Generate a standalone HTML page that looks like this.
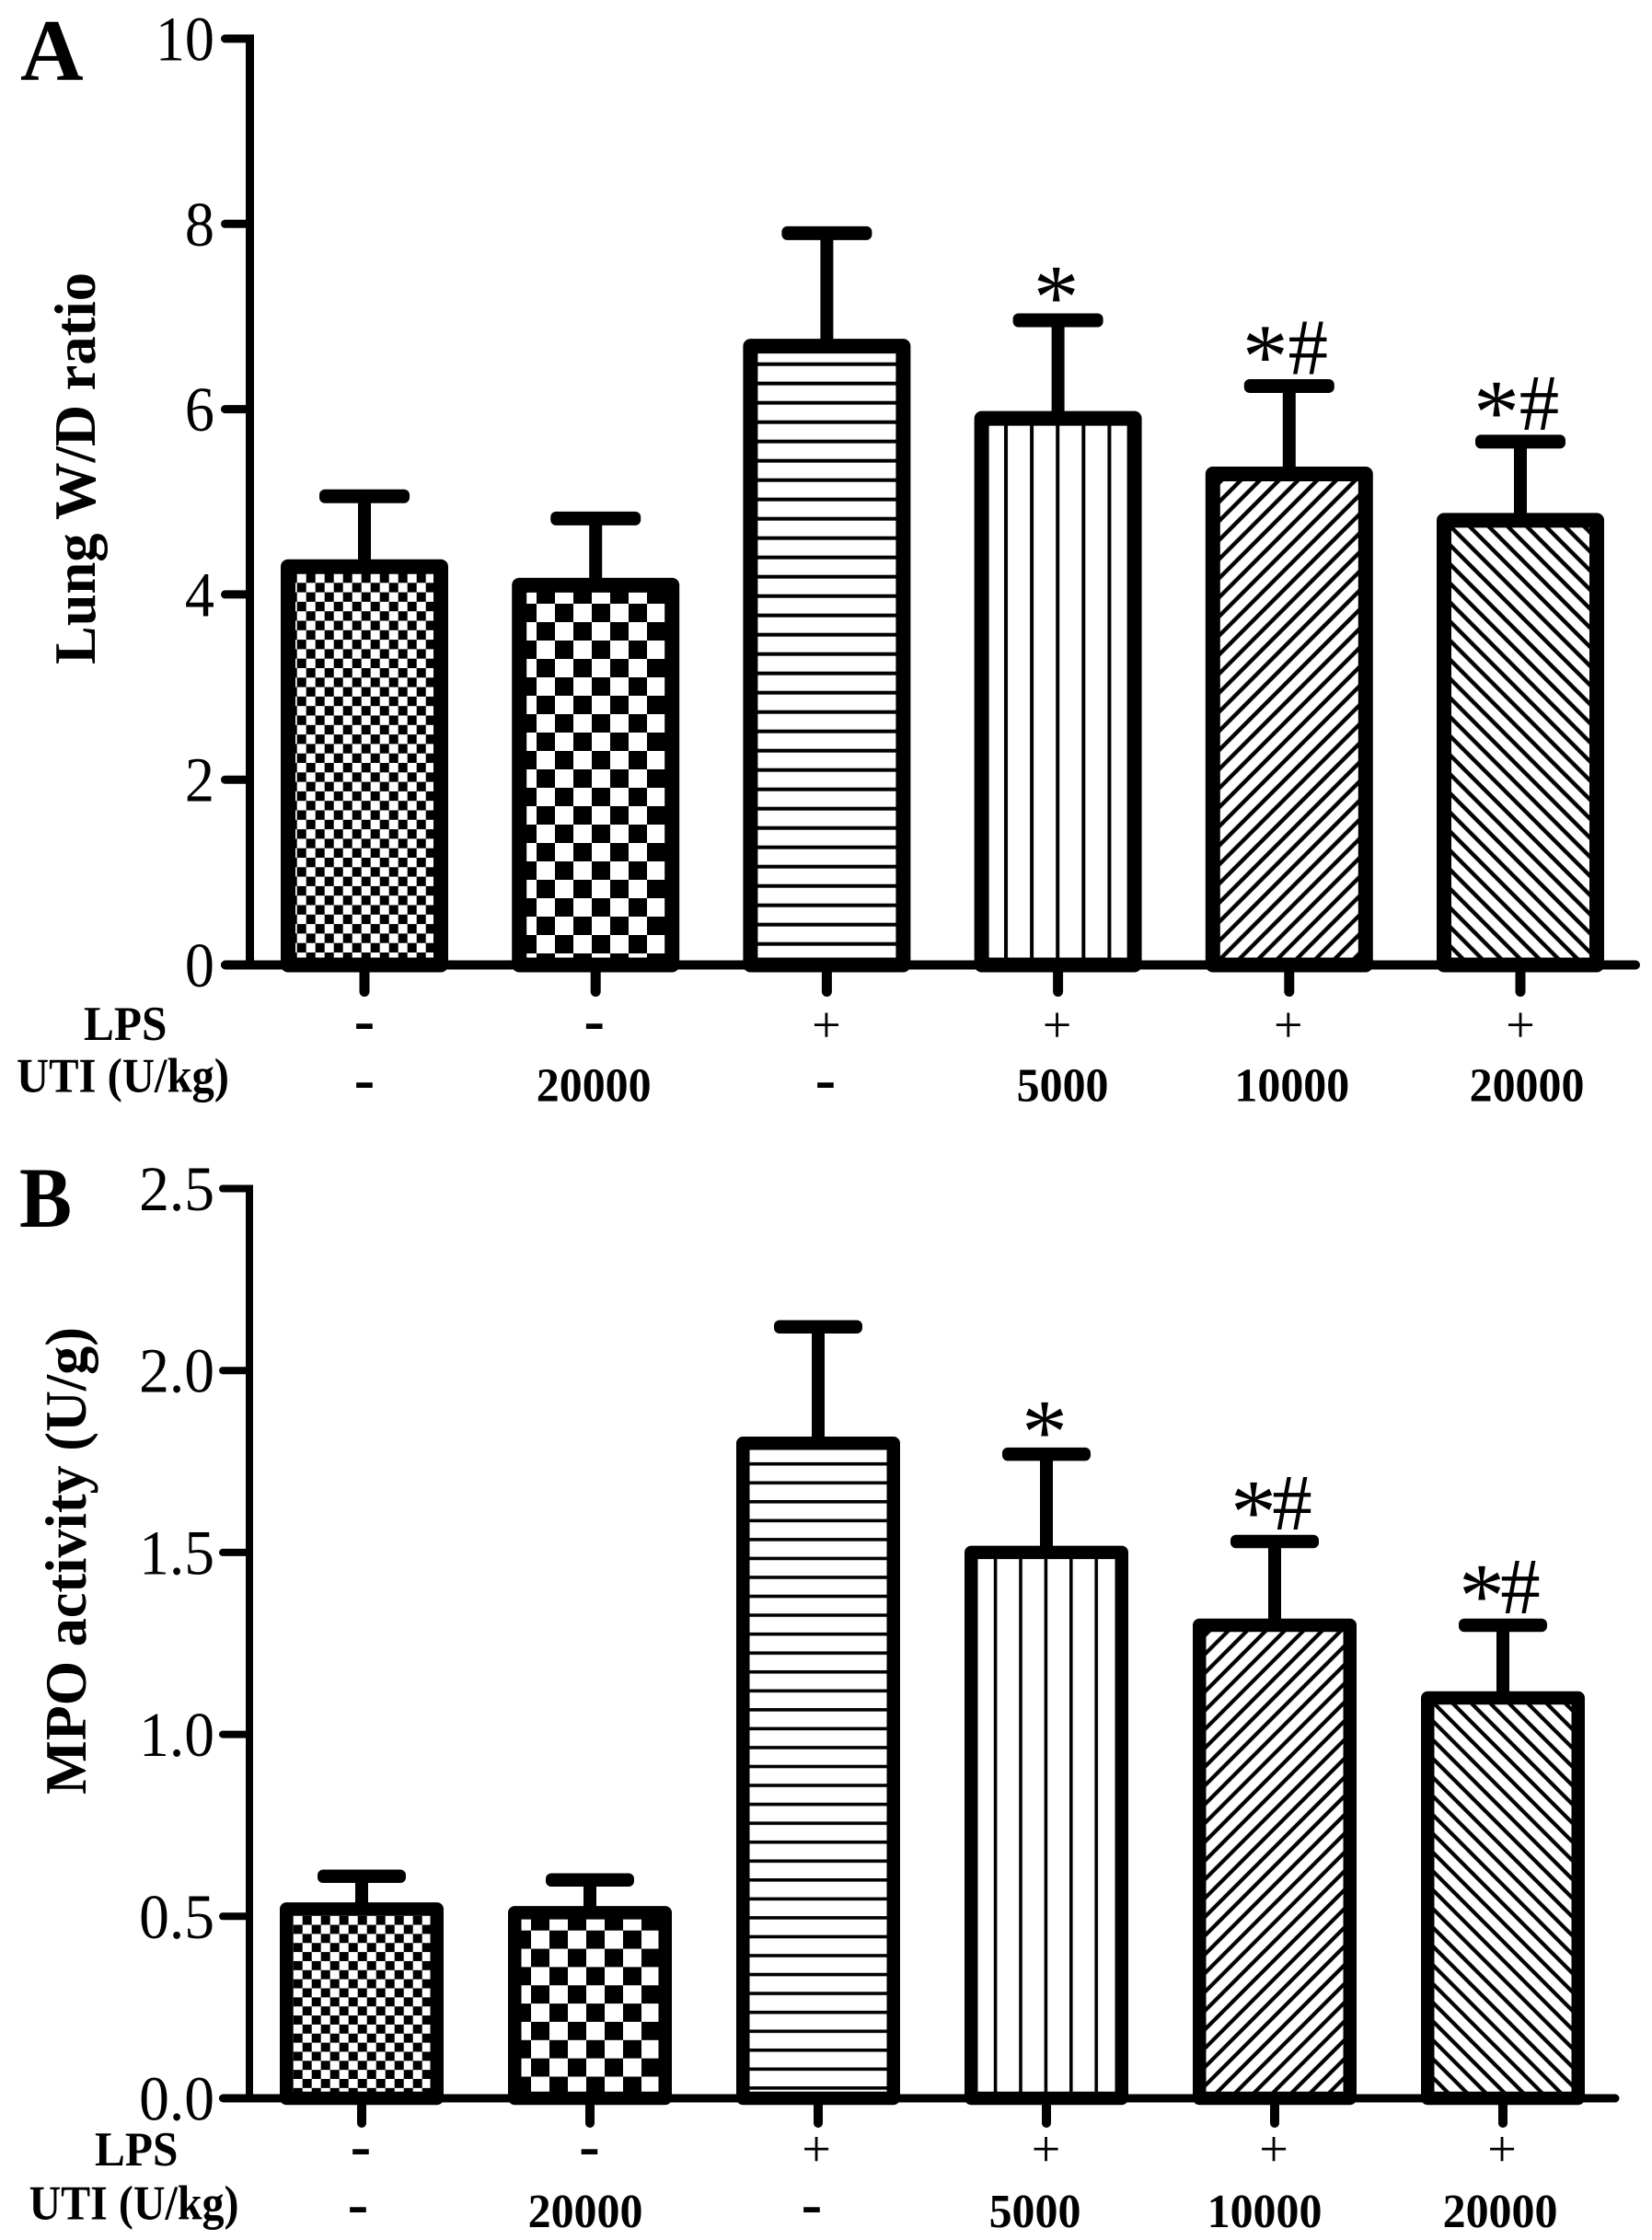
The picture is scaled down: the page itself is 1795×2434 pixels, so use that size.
<!DOCTYPE html>
<html lang="en">
<head>
<meta charset="utf-8">
<title>Lung W/D ratio and MPO activity</title>
<style>
html,body{margin:0;padding:0;background:#fff;}
svg{display:block;}
text{font-family:"Liberation Serif",serif;fill:#000;}
</style>
</head>
<body>
<svg id="figure" xmlns="http://www.w3.org/2000/svg" width="1795" height="2434" viewBox="0 0 1795 2434">
<defs>
  <pattern id="a-fine" patternUnits="userSpaceOnUse" x="332.7" y="623" width="20" height="20.6"><rect width="20" height="20.6" fill="#fff"/><rect width="10" height="10.3"/><rect x="10" y="10.3" width="10" height="10.3"/></pattern>
  <pattern id="a-coarse" patternUnits="userSpaceOnUse" x="583" y="656" width="40" height="40"><rect width="40" height="40" fill="#fff"/><rect x="20" width="20" height="20"/><rect y="20" width="20" height="20"/></pattern>
  <pattern id="a-horiz" patternUnits="userSpaceOnUse" x="0" y="393.7" width="10" height="21"><rect width="10" height="21" fill="#fff"/><rect width="10" height="4"/></pattern>
  <pattern id="a-vert" patternUnits="userSpaceOnUse" x="1091" y="0" width="28.1" height="10"><rect width="28.1" height="10" fill="#fff"/><rect width="4" height="10"/></pattern>
  <pattern id="a-up" patternUnits="userSpaceOnUse" width="14.67" height="10" patternTransform="translate(1870 0) rotate(45)"><rect width="14.67" height="10" fill="#fff"/><rect width="2.2" height="10"/><rect x="12.47" width="2.2" height="10"/></pattern>
  <pattern id="a-down" patternUnits="userSpaceOnUse" width="14.67" height="10" patternTransform="translate(1004 0) rotate(-45)"><rect width="14.67" height="10" fill="#fff"/><rect width="2.2" height="10"/><rect x="12.47" width="2.2" height="10"/></pattern>
  <pattern id="b-fine" patternUnits="userSpaceOnUse" x="328.7" y="2081.7" width="20" height="19.7"><rect width="20" height="19.7" fill="#fff"/><rect width="10" height="9.85"/><rect x="10" y="9.85" width="10" height="9.85"/></pattern>
  <pattern id="b-coarse" patternUnits="userSpaceOnUse" x="577" y="2097.7" width="40" height="39.7"><rect width="40" height="39.7" fill="#fff"/><rect x="20" width="20" height="19.85"/><rect y="19.85" width="20" height="19.85"/></pattern>
  <pattern id="b-horiz" patternUnits="userSpaceOnUse" x="0" y="1588.9" width="10" height="20.55"><rect width="10" height="20.55" fill="#fff"/><rect width="10" height="3.6"/></pattern>
  <pattern id="b-vert" patternUnits="userSpaceOnUse" x="1079.8" y="0" width="27.4" height="10"><rect width="27.4" height="10" fill="#fff"/><rect width="3.6" height="10"/></pattern>
  <pattern id="b-up" patternUnits="userSpaceOnUse" width="14.42" height="10" patternTransform="translate(3127 0) rotate(45)"><rect width="14.42" height="10" fill="#fff"/><rect width="2.1" height="10"/><rect x="12.32" width="2.1" height="10"/></pattern>
  <pattern id="b-down" patternUnits="userSpaceOnUse" width="14.42" height="10" patternTransform="translate(-252 0) rotate(-45)"><rect width="14.42" height="10" fill="#fff"/><rect width="2.1" height="10"/><rect x="12.32" width="2.1" height="10"/></pattern>
</defs>
<rect width="1795" height="2434" fill="#fff"/>

<text x="22" y="87" font-size="95" font-weight="700">A</text>
<text transform="translate(103 722) rotate(-90)" font-size="64" font-weight="700" textLength="426" lengthAdjust="spacingAndGlyphs">Lung W/D ratio</text>
<text transform="translate(91 1130) scale(.93 1)" font-size="53" font-weight="700">LPS</text>
<text x="18" y="1186.7" font-size="53" font-weight="700" textLength="231" lengthAdjust="spacingAndGlyphs">UTI (U/kg)</text>

<text transform="translate(21 1333) scale(.92 1)" font-size="93" font-weight="700">B</text>
<text transform="translate(93 1950) rotate(-90)" font-size="64" font-weight="700" textLength="508" lengthAdjust="spacingAndGlyphs">MPO activity (U/g)</text>
<text transform="translate(103 2353) scale(.93 1)" font-size="53" font-weight="700">LPS</text>
<text x="31.5" y="2411.7" font-size="53" font-weight="700" textLength="228" lengthAdjust="spacingAndGlyphs">UTI (U/kg)</text>

<g id="chart-root"></g>
</svg>

<script>
// ---- chart data ----
const categories = ['control', 'uti-20000', 'lps', 'lps-uti-5000', 'lps-uti-10000', 'lps-uti-20000'];
const lpsLabels = ['-', '-', '+', '+', '+', '+'];
const utiLabels = ['-', '20000', '-', '5000', '10000', '20000'];
const significance = ['', '', '', '*', '*#', '*#'];

const wdValues = [4.3, 4.1, 6.68, 5.9, 5.3, 4.8];
const wdErrors = [0.76, 0.72, 1.22, 1.06, 0.95, 0.85];
const wdTickValues = [0, 2, 4, 6, 8, 10];
const wdTickLabels = ['0', '2', '4', '6', '8', '10'];

const mpoValues = [0.52, 0.51, 1.8, 1.5, 1.3, 1.1];
const mpoErrors = [0.09, 0.09, 0.32, 0.27, 0.23, 0.2];
const mpoTickValues = [0, 0.5, 1, 1.5, 2, 2.5];
const mpoTickLabels = ['0.0', '0.5', '1.0', '1.5', '2.0', '2.5'];

// ---- layout ----
const SVGNS = 'http://www.w3.org/2000/svg';
const root = document.getElementById('chart-root');

function make(tag, attrs, parent) {
  const el = document.createElementNS(SVGNS, tag);
  for (const k in attrs) el.setAttribute(k, attrs[k]);
  parent.appendChild(el);
  return el;
}

function drawPanel(p, values, errors, tickValues, tickLabels) {
  const yScale = v => p.yZero - v * p.unit;
  const xScale = i => p.xFirst + i * p.xStep;
  const topValue = tickValues[tickValues.length - 1];

  const panel = make('g', {}, root);
  
  

  // bars with error bars
  values.forEach((v, i) => {
    const c = xScale(i);
    const capY = yScale(v + errors[i]);
    const stem = make('rect', {x: c - p.stem / 2, y: capY, width: p.stem, height: yScale(v) - capY, fill: '#000'}, panel);
    
    
    const cap = make('rect', {x: c - p.capW / 2, y: capY - p.capH / 2, width: p.capW, height: p.capH, rx: 6, ry: 6, fill: '#000'}, panel);
    
    
    const bar = make('rect', {
      x: c - p.barW / 2 + p.border / 2,
      y: yScale(v),
      width: p.barW - p.border,
      height: p.yZero - yScale(v),
      fill: 'url(#' + p.patterns[i] + ')',
      stroke: '#000',
      'stroke-width': p.border,
      'stroke-linejoin': 'round'
    }, panel);
    
    

    const sig = significance[i];
    if (sig.indexOf('*') >= 0) {
      const single = sig === '*';
      const star = make('text', {
        x: c + (single ? -2 : p.starDx),
        y: capY + (single ? p.starSoloDy : p.starDy),
        'font-size': 100,
        'font-weight': 400,
        'text-anchor': 'middle'
      }, panel);
      star.textContent = '*';
      
      
    }
    if (sig.indexOf('#') >= 0) {
      const hash = make('text', {x: c + p.hashDx, y: capY + p.hashDy, 'font-size': 87, 'text-anchor': 'middle'}, panel);
      hash.textContent = '#';
      
      
    }
  });

  // y axis and ticks
  const yAxis = make('line', {x1: p.axisX, x2: p.axisX, y1: yScale(topValue) - p.axisW / 2, y2: p.yZero, stroke: '#000', 'stroke-width': p.axisW}, panel);
  
  

  tickValues.forEach((t, i) => {
    const y = yScale(t);
    const tick = make('line', {x1: p.tickLeft + p.axisW / 2, x2: p.axisX, y1: y, y2: y, stroke: '#000', 'stroke-width': p.axisW, 'stroke-linecap': 'round'}, panel);
    
    
    const label = make('text', {
      transform: 'translate(' + p.labelRight + ' ' + (y + p.labelShift) + ') scale(' + p.labelScale + ' 1)',
      'font-size': p.labelSize,
      'text-anchor': 'end'
    }, panel);
    label.textContent = tickLabels[i];
    
    
  });

  // x axis and ticks
  const xAxis = make('line', {x1: p.tickLeft + p.zeroW / 2, x2: p.axisRight, y1: p.yZero, y2: p.yZero, stroke: '#000', 'stroke-width': p.zeroW, 'stroke-linecap': 'round'}, panel);
  
  

  categories.forEach((name, i) => {
    const c = xScale(i);
    const xt = make('line', {x1: c, x2: c, y1: p.yZero, y2: p.yZero + p.xTickLen, stroke: '#000', 'stroke-width': p.xTickW, 'stroke-linecap': 'round'}, panel);
    
    

    const lps = lpsLabels[i];
    const lpsText = make('text', {
      x: c + p.lpsNudge[i],
      y: lps === '+' ? p.plusBase : p.lpsDashBase,
      'font-size': lps === '+' ? 56 : 68,
      'font-weight': lps === '+' ? 400 : 700,
      'text-anchor': 'middle'
    }, panel);
    lpsText.textContent = lps;
    
    

    const uti = utiLabels[i];
    const isDash = uti === '-';
    const ux = c + p.utiNudge[i];
    const utiText = make('text', {
      transform: isDash ? 'translate(' + ux + ' ' + p.utiDashBase + ')' : 'translate(' + ux + ' ' + p.utiBase + ') scale(.96 1)',
      'font-size': isDash ? 68 : 52,
      'font-weight': 700,
      'text-anchor': 'middle'
    }, panel);
    utiText.textContent = uti;
    
    
  });
}

drawPanel({
  name: 'panel-a-lung-wd-ratio',
  yZero: 1048.5, unit: 100.65,
  xFirst: 396, xStep: 251.2,
  barW: 182, border: 16, stem: 14, capW: 98, capH: 15,
  axisX: 271.5, axisW: 9, zeroW: 10, tickLeft: 240, axisRight: 1777,
  labelRight: 233, labelShift: 23.5, labelScale: 0.93, labelSize: 69,
  xTickLen: 29, xTickW: 11,
  starDx: -26, starDy: 1, starSoloDy: 8, hashDx: 20.5, hashDy: -13,
  plusBase: 1132.6, lpsDashBase: 1131, utiDashBase: 1195, utiBase: 1196.7,
  lpsNudge: [0, -1.5, -0.5, -1, -1, 0],
  utiNudge: [0, -2, -1.5, 5, 3, 7],
  patterns: ['a-fine', 'a-coarse', 'a-horiz', 'a-vert', 'a-up', 'a-down']
}, wdValues, wdErrors, wdTickValues, wdTickLabels);

drawPanel({
  name: 'panel-b-mpo-activity',
  yZero: 2280, unit: 395.4,
  xFirst: 393, xStep: 248,
  barW: 178, border: 14.5, stem: 14, capW: 96, capH: 14.5,
  axisX: 271, axisW: 8, zeroW: 9, tickLeft: 238, axisRight: 1755,
  labelRight: 233, labelShift: 23.5, labelScale: 0.95, labelSize: 69,
  xTickLen: 27, xTickW: 10,
  starDx: -23, starDy: 1, starSoloDy: 9, hashDx: 19, hashDy: -13,
  plusBase: 2354, lpsDashBase: 2354, utiDashBase: 2417, utiBase: 2420,
  lpsNudge: [-1, -0.5, -2, -0.5, -1, -1],
  utiNudge: [-4, -5, -7, -12.5, -11, -3],
  patterns: ['b-fine', 'b-coarse', 'b-horiz', 'b-vert', 'b-up', 'b-down']
}, mpoValues, mpoErrors, mpoTickValues, mpoTickLabels);
</script>
</body>
</html>
